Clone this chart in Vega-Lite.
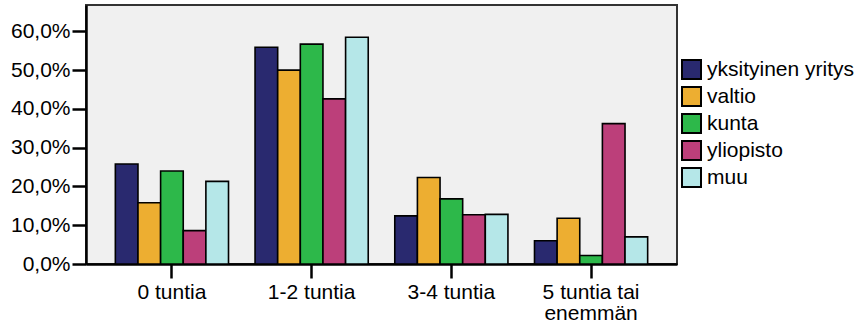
{
  "$schema": "https://vega.github.io/schema/vega-lite/v6.json",
  "autosize": "none",
  "width": 591,
  "height": 259,
  "padding": {"left": 86, "top": 5, "right": 185, "bottom": 59},
  "background": "white",
  "config": {
    "font": "Liberation Sans",
    "view": {"fill": "#f0f0f0", "stroke": "#333333", "strokeWidth": 2}
  },
  "data": {
    "values": [
      {"aika": "0 tuntia", "tyonantaja": "yksityinen yritys", "osuus": 0.258},
      {"aika": "0 tuntia", "tyonantaja": "valtio", "osuus": 0.158},
      {"aika": "0 tuntia", "tyonantaja": "kunta", "osuus": 0.240},
      {"aika": "0 tuntia", "tyonantaja": "yliopisto", "osuus": 0.086},
      {"aika": "0 tuntia", "tyonantaja": "muu", "osuus": 0.213},
      {"aika": "1-2 tuntia", "tyonantaja": "yksityinen yritys", "osuus": 0.559},
      {"aika": "1-2 tuntia", "tyonantaja": "valtio", "osuus": 0.500},
      {"aika": "1-2 tuntia", "tyonantaja": "kunta", "osuus": 0.567},
      {"aika": "1-2 tuntia", "tyonantaja": "yliopisto", "osuus": 0.426},
      {"aika": "1-2 tuntia", "tyonantaja": "muu", "osuus": 0.585},
      {"aika": "3-4 tuntia", "tyonantaja": "yksityinen yritys", "osuus": 0.124},
      {"aika": "3-4 tuntia", "tyonantaja": "valtio", "osuus": 0.223},
      {"aika": "3-4 tuntia", "tyonantaja": "kunta", "osuus": 0.168},
      {"aika": "3-4 tuntia", "tyonantaja": "yliopisto", "osuus": 0.127},
      {"aika": "3-4 tuntia", "tyonantaja": "muu", "osuus": 0.128},
      {"aika": "5 tuntia tai enemmän", "tyonantaja": "yksityinen yritys", "osuus": 0.060},
      {"aika": "5 tuntia tai enemmän", "tyonantaja": "valtio", "osuus": 0.118},
      {"aika": "5 tuntia tai enemmän", "tyonantaja": "kunta", "osuus": 0.022},
      {"aika": "5 tuntia tai enemmän", "tyonantaja": "yliopisto", "osuus": 0.362},
      {"aika": "5 tuntia tai enemmän", "tyonantaja": "muu", "osuus": 0.070}
    ]
  },
  "mark": {"type": "bar", "stroke": "black", "strokeWidth": 1.6},
  "encoding": {
    "x": {
      "field": "aika",
      "type": "nominal",
      "sort": ["0 tuntia", "1-2 tuntia", "3-4 tuntia", "5 tuntia tai enemmän"],
      "scale": {"paddingInner": 0.19, "paddingOuter": 0.21},
      "axis": {
        "title": null,
        "labelAngle": 0,
        "labelFontSize": 21,
        "labelColor": "black",
        "labelPadding": 3,
        "labelLineHeight": 21,
        "labelExpr": "datum.label == '5 tuntia tai enemmän' ? ['5 tuntia tai', 'enemmän'] : datum.label",
        "domainColor": "black",
        "domainWidth": 2.5,
        "tickColor": "black",
        "tickWidth": 2.5,
        "tickSize": 14
      }
    },
    "xOffset": {
      "field": "tyonantaja",
      "type": "nominal",
      "sort": ["yksityinen yritys", "valtio", "kunta", "yliopisto", "muu"],
      "scale": {"paddingInner": 0, "paddingOuter": 0}
    },
    "y": {
      "field": "osuus",
      "type": "quantitative",
      "scale": {"domain": [0, 0.668], "nice": false},
      "axis": {
        "title": null,
        "values": [0, 0.1, 0.2, 0.3, 0.4, 0.5, 0.6],
        "labelExpr": "replace(format(datum.value, '.1%'), '.', ',')",
        "labelFontSize": 21,
        "labelColor": "black",
        "labelPadding": 2,
        "grid": false,
        "domainColor": "black",
        "domainWidth": 2.5,
        "tickColor": "black",
        "tickWidth": 2.5,
        "tickSize": 14
      }
    },
    "color": {
      "field": "tyonantaja",
      "type": "nominal",
      "sort": ["yksityinen yritys", "valtio", "kunta", "yliopisto", "muu"],
      "scale": {
        "domain": ["yksityinen yritys", "valtio", "kunta", "yliopisto", "muu"],
        "range": ["#29296f", "#edae31", "#2db84a", "#bc3f7a", "#b5e7e8"]
      },
      "legend": {
        "title": null,
        "orient": "none",
        "legendX": 595,
        "legendY": 54,
        "padding": 0,
        "symbolType": "square",
        "symbolSize": 361,
        "symbolStrokeColor": "black",
        "symbolStrokeWidth": 2,
        "symbolOpacity": 1,
        "labelFontSize": 21,
        "labelColor": "black",
        "labelOffset": 5,
        "rowPadding": 0
      }
    }
  }
}
